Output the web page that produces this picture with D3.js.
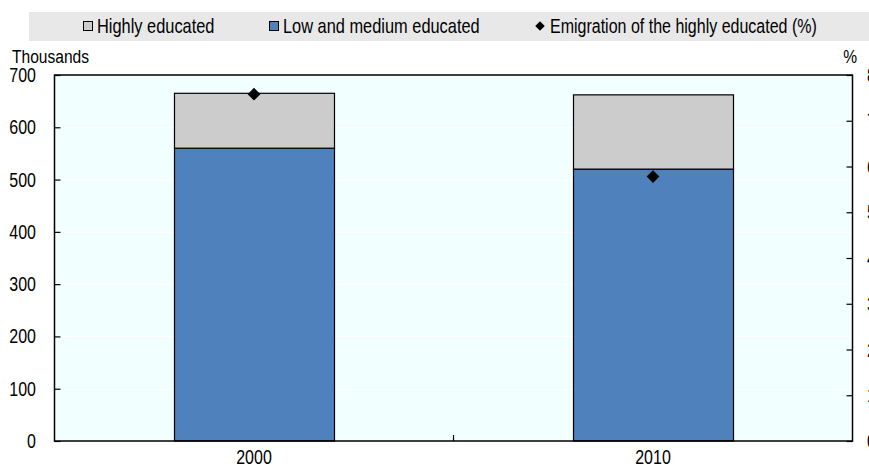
<!DOCTYPE html>
<html><head><meta charset="utf-8">
<script src="https://cdn.jsdelivr.net/npm/d3@7"></script>
<style>
body{margin:0;background:#fff;}
svg text{font-family:"Liberation Sans",Arial,sans-serif;fill:#000;}
</style></head>
<body><svg id="c" width="869" height="465"></svg>
<script>
const years = ["2000", "2010"];
const lowMedium = [560, 520];
const highlyEducated = [105, 142];
const emigrationRate = [75.8, 57.8];
const leftTicks = [0, 100, 200, 300, 400, 500, 600, 700];
const rightTicks = [0, 10, 20, 30, 40, 50, 60, 70, 80];
const legendLabels = ["Highly educated", "Low and medium educated", "Emigration of the highly educated (%)"];

const svg = d3.select("#c");
const L = 54.5, R = 852.5, T = 75, B = 441;
const SX = 0.82;
function txt(g, x, yy, s, size, anchor, sx) {
  return g.append("text").attr("transform", `translate(${x},${yy}) scale(${sx || SX},1)`)
    .attr("font-size", size).attr("text-anchor", anchor || "start").text(s);
}

// legend
svg.append("rect").attr("x", 29).attr("y", 12).attr("width", 840).attr("height", 29).attr("fill", "#e8e8e8");
const lg = svg.append("g");
lg.append("rect").attr("x", 83.5).attr("y", 21.5).attr("width", 9).attr("height", 9).attr("fill", "#cccccc").attr("stroke", "#000").attr("stroke-width", 1);
txt(lg, 97, 33, legendLabels[0], 20);
lg.append("rect").attr("x", 269.5).attr("y", 21.5).attr("width", 9).attr("height", 9).attr("fill", "#4f81bd").attr("stroke", "#000").attr("stroke-width", 1);
txt(lg, 283, 33, legendLabels[1], 20);
lg.append("path").attr("d", d3.symbol(d3.symbolSquare, 45)()).attr("transform", "translate(540,26) rotate(45)").attr("fill", "#000");
txt(lg, 550, 33, legendLabels[2], 20, "start", 0.8);

// scales
const x = d3.scaleBand().domain(years).range([L, R]).paddingInner(0.6).paddingOuter(0.3);
const y = d3.scaleLinear().domain([0, 700]).range([B, T]);
const y2 = d3.scaleLinear().domain([0, 80]).range([B, T]);

// plot background
svg.append("rect").attr("x", L).attr("y", T).attr("width", R - L).attr("height", B - T).attr("fill", "#f2ffff");
svg.append("g").selectAll("line").data(leftTicks.slice(1, -1)).join("line")
  .attr("x1", L).attr("x2", R).attr("y1", d => Math.round(y(d)) + 0.5).attr("y2", d => Math.round(y(d)) + 0.5)
  .attr("stroke", "#fff").attr("stroke-width", 1);

// bars
const bars = svg.append("g");
years.forEach((yr, i) => {
  const bx = Math.round(x(yr)) + 0.5, bw = Math.round(x.bandwidth());
  bars.append("rect").attr("x", bx).attr("width", bw)
    .attr("y", y(lowMedium[i])).attr("height", y(0) - y(lowMedium[i]))
    .attr("fill", "#4f81bd").attr("stroke", "#000").attr("stroke-width", 1.2);
  bars.append("rect").attr("x", bx).attr("width", bw)
    .attr("y", y(lowMedium[i] + highlyEducated[i])).attr("height", y(lowMedium[i]) - y(lowMedium[i] + highlyEducated[i]))
    .attr("fill", "#cccccc").attr("stroke", "#000").attr("stroke-width", 1.2);
});

// axes
const ax = svg.append("g").attr("transform", `translate(${L},0)`)
  .call(d3.axisRight(y).tickValues(leftTicks).tickSize(6));
ax.select(".domain").remove();
ax.selectAll("text").remove();
ax.selectAll("line").attr("stroke", "#000").attr("stroke-width", 1.2);
const lt = svg.append("g");
leftTicks.forEach(d => txt(lt, 36, y(d) + 7, d, 19.5, "end"));

const ax2 = svg.append("g").attr("transform", `translate(${R},0)`)
  .call(d3.axisLeft(y2).tickValues(rightTicks).tickSize(6));
ax2.select(".domain").remove();
ax2.selectAll("text").remove();
ax2.selectAll("line").attr("stroke", "#000").attr("stroke-width", 1.2);
const rt = svg.append("g");
rightTicks.forEach(d => txt(rt, 867, y2(d) + 7, d, 19.5, "start"));

// frame
svg.append("rect").attr("x", L).attr("y", T).attr("width", R - L).attr("height", B - T)
  .attr("fill", "none").attr("stroke", "#000").attr("stroke-width", 1.5);

// bottom axis
const xt = svg.append("g");
years.forEach(d => txt(xt, x(d) + x.bandwidth() / 2, 464, d, 19.5, "middle"));
svg.append("line").attr("x1", (L + R) / 2).attr("x2", (L + R) / 2).attr("y1", B).attr("y2", B - 6).attr("stroke", "#000").attr("stroke-width", 1.2);

// diamonds
svg.append("g").selectAll("path").data(years).join("path")
  .attr("d", d3.symbol(d3.symbolSquare, 81)())
  .attr("transform", (d, i) => `translate(${x(d) + x.bandwidth() / 2},${y2(emigrationRate[i])}) rotate(45)`)
  .attr("fill", "#000");

// axis titles
const tt = svg.append("g");
txt(tt, 12, 63, "Thousands", 19);
txt(tt, 857, 63, "%", 19, "end");
</script></body></html>
